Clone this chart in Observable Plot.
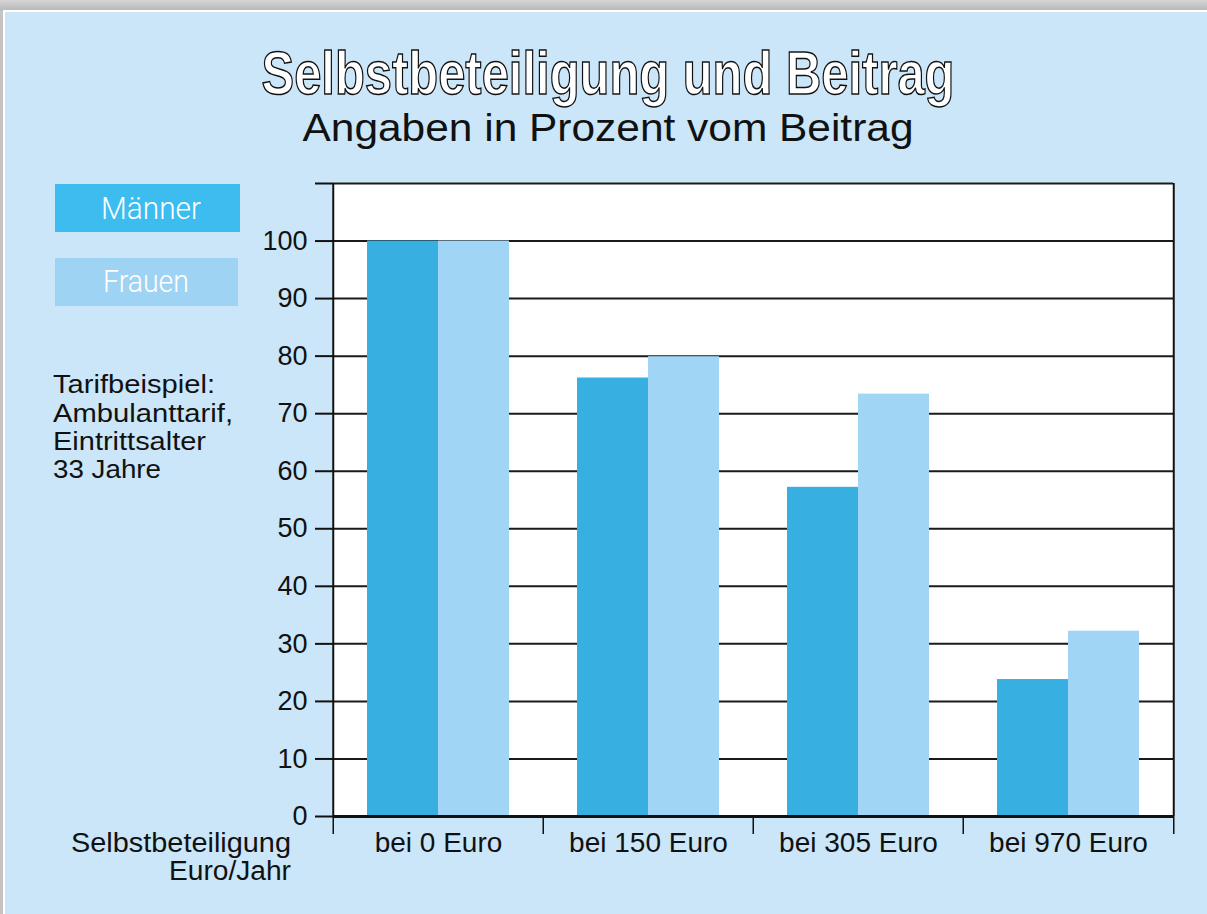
<!DOCTYPE html>
<html><head><meta charset="utf-8">
<script src="https://cdn.jsdelivr.net/npm/d3@7"></script>
<script src="https://cdn.jsdelivr.net/npm/@observablehq/plot@0.6"></script>
<style>
html,body{margin:0;padding:0;}
body{width:1207px;height:914px;overflow:hidden;position:relative;background:linear-gradient(#d6d6d6,#b9b9b9 10px,#c4c4c4 11px);font-family:"Liberation Sans",Arial,sans-serif;}
#panel{position:absolute;left:3px;top:10px;width:1202px;height:902px;background:#cae6f8;border-top:2px solid #fff;border-left:2px solid #fff;}
#chart{position:absolute;left:0;top:0;}
#overlay{position:absolute;left:0;top:0;}
</style></head><body>
<div id="panel"></div>
<div id="chart"></div>
<svg id="overlay" width="1207" height="914" font-family="'Liberation Sans',Arial,sans-serif">
  <text x="608" y="94" text-anchor="middle" textLength="693" lengthAdjust="spacingAndGlyphs" font-family="'Liberation Sans',Arial,sans-serif" font-weight="bold" font-size="62" fill="#fff" stroke="#111" stroke-width="1.5">Selbstbeteiligung und Beitrag</text>
  <text x="608" y="141" text-anchor="middle" textLength="611" lengthAdjust="spacingAndGlyphs" font-size="38" fill="#111">Angaben in Prozent vom Beitrag</text>
  <rect x="55" y="184" width="185" height="48" fill="#3dbcf0"/>
  <text x="151" y="219" text-anchor="middle" textLength="100" lengthAdjust="spacingAndGlyphs" font-family="Roboto,sans-serif" font-weight="300" font-size="31" fill="#fff">Männer</text>
  <rect x="55" y="258" width="183" height="48" fill="#9fd3f4"/>
  <text x="146" y="292" text-anchor="middle" textLength="86" lengthAdjust="spacingAndGlyphs" font-family="Roboto,sans-serif" font-weight="300" font-size="31" fill="#fff">Frauen</text>
  <g font-size="26" fill="#111">
    <text x="53" y="393" textLength="162" lengthAdjust="spacingAndGlyphs">Tarifbeispiel:</text>
    <text x="53" y="421.5" textLength="180" lengthAdjust="spacingAndGlyphs">Ambulanttarif,</text>
    <text x="53" y="450" textLength="153" lengthAdjust="spacingAndGlyphs">Eintrittsalter</text>
    <text x="53" y="478" textLength="108" lengthAdjust="spacingAndGlyphs">33 Jahre</text>
  </g>
  <g font-size="27" fill="#111" text-anchor="end">
    <text x="291" y="852" textLength="220" lengthAdjust="spacingAndGlyphs">Selbstbeteiligung</text>
    <text x="291" y="880" textLength="122" lengthAdjust="spacingAndGlyphs">Euro/Jahr</text>
  </g>
</svg>
<script>
// ---- data ----
const categories = ["bei 0 Euro", "bei 150 Euro", "bei 305 Euro", "bei 970 Euro"];
const series = ["Männer", "Frauen"];
const maenner = [100, 76.2, 57.2, 23.8];
const frauen = [100, 79.9, 73.4, 32.2];
const yTicks = [0, 10, 20, 30, 40, 50, 60, 70, 80, 90, 100, 110];
const yTickLabels = ["0", "10", "20", "30", "40", "50", "60", "70", "80", "90", "100", ""];
const seriesColors = ["#37afe1", "#a1d5f5"];

const rows = categories.flatMap((c, i) => [
  {category: c, sex: series[0], value: maenner[i]},
  {category: c, sex: series[1], value: frauen[i]}
]);

const W = 1207, H = 914, mL = 332, mR = 33, mT = 183, mB = 98;
const fw = (W - mL - mR) / categories.length;

const chart = Plot.plot({
  width: W, height: H,
  marginLeft: mL, marginRight: mR, marginTop: mT, marginBottom: mB,
  style: {background: "transparent", fontFamily: "'Liberation Sans',Arial,sans-serif", color: "#111", overflow: "visible"},
  fx: {domain: categories, padding: 0, label: null},
  x: {domain: series, paddingInner: 0, paddingOuter: 0.46, axis: null},
  y: {domain: [0, 110], axis: null},
  color: {domain: series, range: seriesColors},
  marks: [
    Plot.frame({fill: "white", stroke: "white", strokeWidth: 1.5}),
    Plot.ruleY(yTicks.slice(1), {stroke: "#1a1a1a", strokeWidth: 2}),
    Plot.barY(rows, {fx: "category", x: "sex", y: "value", fill: "sex"}),
    Plot.ruleY([0], {stroke: "#111", strokeWidth: 3}),
    Plot.ruleX(categories.slice(0, 1), {fx: d => d, x: null, dx: -fw / 2, y1: 0, y2: 110, stroke: "#111", strokeWidth: 2}),
    Plot.ruleX(categories.slice(-1), {fx: d => d, x: null, dx: fw / 2, y1: 0, y2: 110, stroke: "#111", strokeWidth: 2}),
    Plot.ruleX(categories, {fx: d => d, x: null, dx: -fw / 2, y1: 0, y2: 0, insetTop: 18, stroke: "#111", strokeWidth: 1.5}),
    Plot.ruleX(categories.slice(-1), {fx: d => d, x: null, dx: fw / 2, y1: 0, y2: 0, insetTop: 18, stroke: "#111", strokeWidth: 1.5}),
    Plot.axisY({ticks: yTicks, tickSize: 18, tickPadding: 8, tickFormat: d => yTickLabels[yTicks.indexOf(d)], strokeWidth: 2, fontSize: 27, label: null}),
    Plot.axisFx({anchor: "bottom", tickSize: 0, tickPadding: 16, fontSize: 28, label: null})
  ]
});
document.getElementById("chart").appendChild(chart);
</script>
</body></html>
